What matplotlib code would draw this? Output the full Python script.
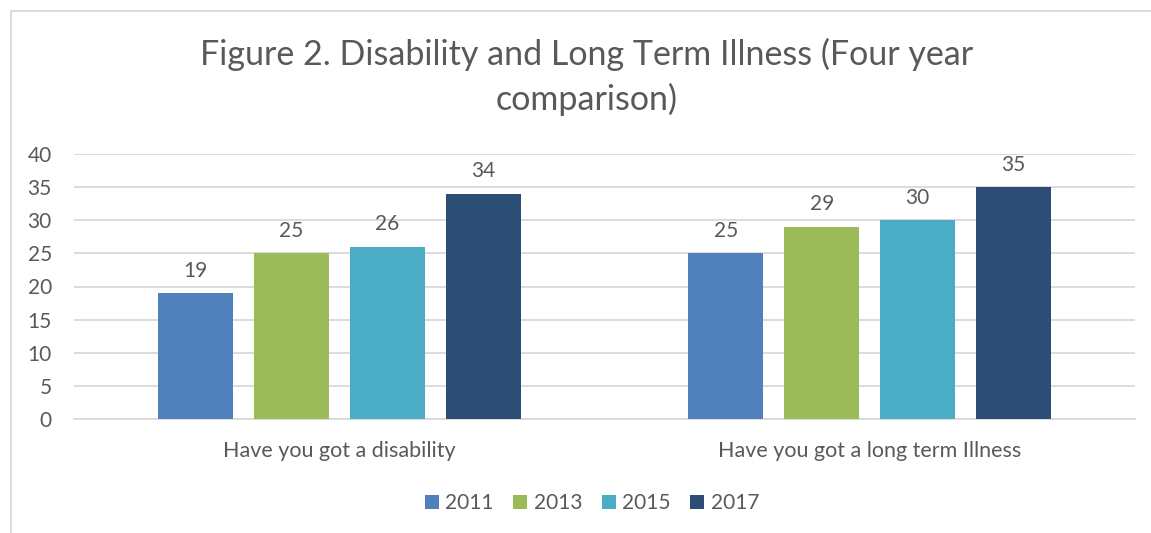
import matplotlib
matplotlib.use("Agg")
import matplotlib.pyplot as plt
from matplotlib.lines import Line2D
import numpy as np

categories = ["Have you got a disability", "Have you got a long term Illness"]
years = ["2011", "2013", "2015", "2017"]
values = {
    "2011": [19, 25],
    "2013": [25, 29],
    "2015": [26, 30],
    "2017": [34, 35],
}
colors = ["#4F81BD", "#9BBB59", "#4BACC6", "#2C4D75"]

plt.rcParams['font.family'] = ['Lato', 'DejaVu Sans']
txt = "#595959"

W, H = 1151, 533
fig = plt.figure(figsize=(W / 100, H / 100), dpi=100)
ax = fig.add_axes([74 / W, 1 - 419 / H, (1135 - 74) / W, (419 - 154) / H])

x = np.arange(len(categories))
step = 96 / 530.5
width = 75 / 530.5
for i, (yr, c) in enumerate(zip(years, colors)):
    pos = x + (i - 1.5) * step
    bars = ax.bar(pos, values[yr], width=width, color=c, zorder=3, label=yr)
    for b, v in zip(bars, values[yr]):
        ax.annotate(str(v), (b.get_x() + b.get_width() / 2, v), xytext=(0, 9),
                    textcoords="offset points", ha="center", va="bottom",
                    fontsize=15, color=txt)

ax.set_xlim(-0.5, 1.5)
ax.set_ylim(0, 40)
ax.set_yticks(range(0, 41, 5))
ax.yaxis.grid(True, color="#d9d9d9", linewidth=1.3, zorder=0)
ax.set_axisbelow(True)
for s in ["top", "right", "left"]:
    ax.spines[s].set_visible(False)
ax.spines["bottom"].set_color("#d9d9d9")
ax.spines["bottom"].set_linewidth(1.3)
ax.set_xticks(x)
ax.set_xticklabels(categories, fontsize=15.5)
ax.tick_params(axis="both", length=0, labelcolor=txt)
ax.tick_params(axis="y", labelsize=15, pad=16)
ax.tick_params(axis="x", pad=16)

fig.text(587 / W, 1 - 77 / H, "Figure 2. Disability and Long Term Illness (Four year\ncomparison)",
         ha="center", va="center", fontsize=24.5, color=txt, linespacing=1.45)

leg = fig.legend(loc="center", bbox_to_anchor=(592 / W, 1 - 503 / H), ncol=4, frameon=False,
                 fontsize=15, labelcolor=txt, handlelength=0.67, handleheight=0.67,
                 handletextpad=0.3, columnspacing=0.95)

fig.add_artist(Line2D([10.5 / W, 10.5 / W], [0, 1 - 10.5 / H], color="#d9d9d9", lw=1.3,
                      transform=fig.transFigure))
fig.add_artist(Line2D([10.5 / W, 1], [1 - 10.5 / H, 1 - 10.5 / H], color="#d9d9d9", lw=1.3,
                      transform=fig.transFigure))

fig.savefig("out.png", dpi=100)
